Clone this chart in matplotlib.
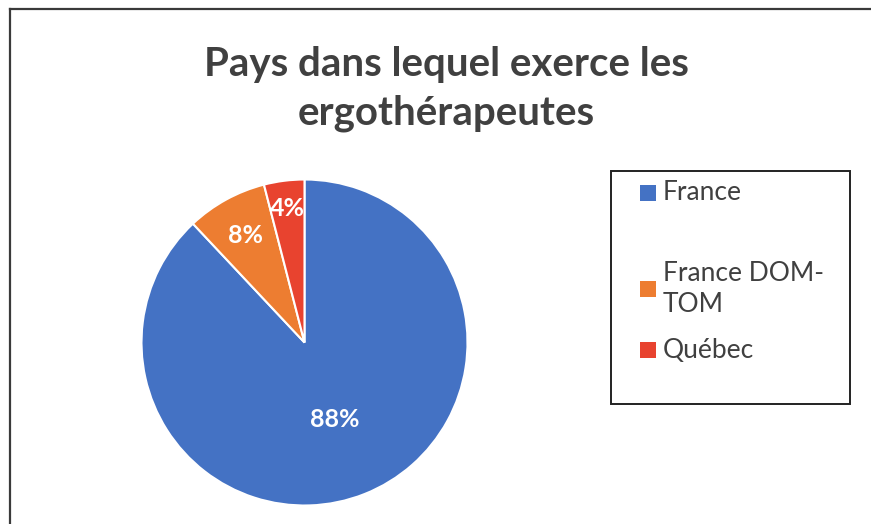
import matplotlib
matplotlib.use("Agg")
import matplotlib.pyplot as plt
from matplotlib.patches import Rectangle
import numpy as np

categories = ["France", "France DOM-TOM", "Québec"]
legend_labels = ["France", "France DOM-\nTOM", "Québec"]
values = [88, 8, 4]
colors = ["#4472C4", "#ED7D31", "#E8432F"]
title = "Pays dans lequel exerce les\nergothérapeutes"

W, H = 871, 524
fig = plt.figure(figsize=(W / 100, H / 100), dpi=100)
fig.patch.set_facecolor("white")

def fx(px):
    return px / W

def fy(py):
    return 1 - py / H

# outer border (left and top visible)
fig.add_artist(plt.Line2D([fx(9.5), fx(9.5)], [fy(8.5), 0], color="#3a3a3a", lw=1.6, transform=fig.transFigure))
fig.add_artist(plt.Line2D([fx(9.5), 1], [fy(8.5), fy(8.5)], color="#3a3a3a", lw=1.6, transform=fig.transFigure))

# title
fig.text(fx(446), fy(89), title, ha="center", va="center", fontsize=29, fontweight="bold",
         color="#404040", family="Lato", linespacing=1.38)

# pie
cx, cy, R = 304.5, 342.5, 163
ax = fig.add_axes([fx(cx - R), fy(cy + R), 2 * R / W, 2 * R / H])
wedges, _ = ax.pie(values, colors=colors, startangle=90, counterclock=False, radius=1,
                   wedgeprops=dict(edgecolor="white", linewidth=1.5))
ax.set_xlim(-1, 1)
ax.set_ylim(-1, 1)
ax.set_aspect("equal")
ax.axis("off")

label_r = [0.51, 0.75, 0.83]
for w, v, r in zip(wedges, values, label_r):
    ang = np.deg2rad((w.theta1 + w.theta2) / 2)
    ax.text(r * np.cos(ang), r * np.sin(ang), f"{v}%", ha="center", va="center",
            color="white", fontsize=18, fontweight="bold", family="Lato")

# legend (manual)
fig.add_artist(Rectangle((fx(610.5), fy(404)), fx(850) - fx(610.5), fy(170.5) - fy(404),
                         transform=fig.transFigure, fill=False, edgecolor="#222222", lw=1.4))
entry_y = [193, 289, 350]
for lab, c, y in zip(legend_labels, colors, entry_y):
    fig.add_artist(Rectangle((fx(640), fy(y + 8)), 16 / W, 16 / H, transform=fig.transFigure,
                             facecolor=c, edgecolor="none"))
    fig.text(fx(663), fy(y), lab, ha="left", va="center", fontsize=19, color="#404040",
             family="Lato", linespacing=1.32)

fig.savefig("out.png", dpi=100, facecolor="white")
